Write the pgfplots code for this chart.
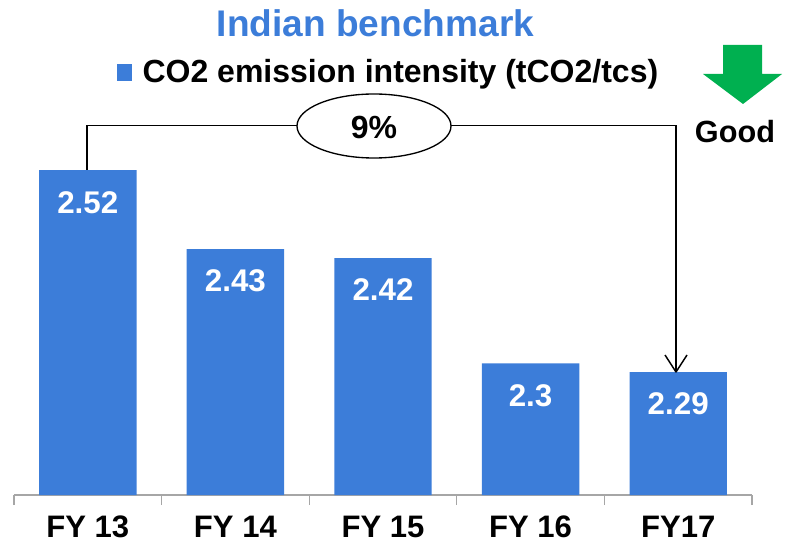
\documentclass[border=0pt]{standalone}
\usepackage{fontspec}
\setmainfont{Liberation Sans}
\usepackage{pgfplots}
\pgfplotsset{compat=1.18}
\definecolor{barblue}{HTML}{3C7DD9}
\definecolor{goodgreen}{HTML}{00B050}
\definecolor{axisgray}{HTML}{A6A6A6}
\begin{document}
\begin{tikzpicture}
\useasboundingbox (0,0) rectangle (593.25pt,414.75pt);
\begin{axis}[
    at={(10.5pt,43.5pt)}, anchor=south west,
    scale only axis,
    width=553.5pt, height=296.25pt,
    xmin=-0.5, xmax=4.5,
    ymin=2.15, ymax=2.6,
    axis x line*=bottom,
    axis y line=none,
    axis line style={axisgray, line width=0.9pt, -},
    xtick={0,1,2,3,4},
    xticklabels={FY 13,FY 14,FY 15,FY 16,FY17},
    major tick length=0pt,
    minor xtick={-0.5,0.5,1.5,2.5,3.5,4.5},
    minor tick length=7.5pt,
    tick align=outside,
    minor tick style={axisgray, line width=0.9pt},
    xticklabel style={font=\fontsize{23.3}{26}\selectfont\bfseries, yshift=-12pt},
    ytick=\empty,
    clip=false,
    legend style={at={(0.508,1.071)}, anchor=center, draw=none, fill=none,
        font=\fontsize{24}{28}\selectfont\bfseries, inner sep=0pt, column sep=6pt},
    legend image code/.code={\fill[barblue] (0pt,-6.5pt) rectangle (11.25pt,6.25pt);},
]
\addplot[ybar, bar width=0.66, fill=barblue, draw=none,
    nodes near coords,
    every node near coord/.append style={anchor=center, yshift=-24pt, text=white,
        font=\fontsize{23.5}{26}\selectfont\bfseries},
    point meta=explicit symbolic]
    coordinates {(0,2.52)[2.52] (1,2.43)[2.43] (2,2.42)[2.42] (3,2.3)[2.3] (4,2.29)[2.29]};
\addlegendentry{CO2 emission intensity (tCO2/tcs)}
\end{axis}
\begin{scope}[x=0.75pt, y=-0.75pt, yshift=414.75pt]
\node[anchor=base, text=barblue, font=\fontsize{27.8}{30}\selectfont\bfseries, inner sep=0pt]
    at (375.5,37) {Indian benchmark};
\draw[line width=1.1pt] (87,170) -- (87,125.5) -- (676,125.5) -- (676,372);
\draw[line width=1.1pt, line join=round] (665,355) -- (676,372) -- (687,355);
\draw[line width=1pt, fill=white] (374,126) ellipse [x radius=77, y radius=32];
\node[font=\fontsize{24}{26}\selectfont\bfseries, inner sep=0pt] at (374,127.5) {9\%};
\fill[goodgreen] (723,45) -- (762,45) -- (762,74) -- (782,74) -- (743,104) -- (703,74) -- (723,74) -- cycle;
\node[anchor=base, font=\fontsize{23}{26}\selectfont\bfseries, inner sep=0pt] at (735,143) {Good};
\end{scope}
\end{tikzpicture}
\end{document}
